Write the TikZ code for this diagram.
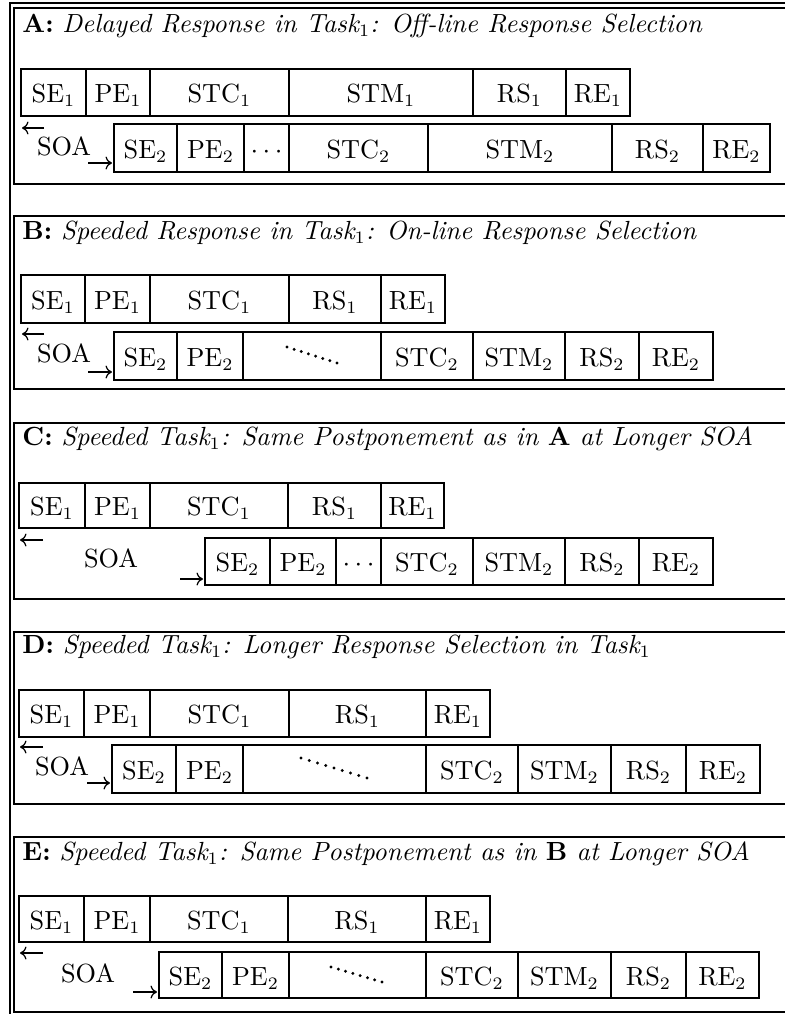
\documentclass[tikz,border=0pt]{standalone}
\usepackage{fontspec}
\usetikzlibrary{arrows.meta}
\begin{document}
\begin{tikzpicture}[x=0.4pt,y=-0.4pt,
  every node/.style={font=\fontsize{10.5pt}{12.6pt}\selectfont},
  stagebox/.style={draw, line width=0.75pt, inner sep=0pt, text height=8pt, text depth=0pt, align=center},
  frame/.style={line width=0.75pt},
  ttl/.style={anchor=base west, inner sep=0pt},
  soalbl/.style={anchor=base, inner sep=0pt},
  soaarrow/.style={-{Computer Modern Rightarrow[length=2.6pt,width=5.2pt]}, line width=0.5pt},
  dotfill/.style={fill=black}]
\newcommand\stg[6]{\node[stagebox, minimum width={(#3-#2)*0.4pt}, minimum height={(#5-#4)*0.4pt}] (#1) at ({(#2+#3)/2},{(#4+#5)/2}) {#6};}
\newcommand\slantdots[4]{\foreach \i in {0,...,7} {\fill[dotfill] ({#1+\i*(#3-#1)/7},{#2+\i*(#4-#2)/7}) circle (0.65pt);}}
\newcommand\soaarrows[9]{%
  \coordinate (#1-l0) at (#2,#4); \coordinate (#1-l1) at (#3,#4);
  \coordinate (#1-r0) at (#5,#7); \coordinate (#1-r1) at (#6,#7);
  \node[soalbl] (#1-soa) at (#8,#9) {SOA};
  \draw[soaarrow] (#1-l0) -- (#1-l1);
  \draw[soaarrow] (#1-r0) -- (#1-r1);}
\useasboundingbox (0,0) rectangle (785,1014);
\clip (0,0) rectangle (785,1014);
% outer frame
\draw[frame] (10,1030) -- (10,3) -- (800,3);
% panel frames
\draw[frame] (14,8) rectangle (800,184);
\draw[frame] (14,216) rectangle (800,389);
\draw[frame] (14,423) rectangle (800,599);
\draw[frame] (14,632) rectangle (800,804);
\draw[frame] (14,837) rectangle (800,1012);

% ---------- Panel A ----------
\node[ttl] (ta) at (22,32) {\textbf{A:} \textit{Delayed Response in Task$_1$: Off-line Response Selection}};
\stg{a-se1}{21}{86}{69}{116}{SE$_1$}
\stg{a-pe1}{86}{150}{69}{116}{PE$_1$}
\stg{a-stc1}{150}{289}{69}{116}{STC$_1$}
\stg{a-stm1}{289}{473}{69}{116}{STM$_1$}
\stg{a-rs1}{473}{566}{69}{116}{RS$_1$}
\stg{a-re1}{566}{630}{69}{116}{RE$_1$}
\stg{a-se2}{114}{177}{124}{172}{SE$_2$}
\stg{a-pe2}{177}{244}{124}{172}{PE$_2$}
\stg{a-dt2}{244}{289}{124}{172}{$\cdots$}
\stg{a-stc2}{289}{428}{124}{172}{STC$_2$}
\stg{a-stm2}{428}{612}{124}{172}{STM$_2$}
\stg{a-rs2}{612}{703}{124}{172}{RS$_2$}
\stg{a-re2}{703}{770}{124}{172}{RE$_2$}
\soaarrows{a}{44}{22}{128}{88}{112}{163}{64}{155}

% ---------- Panel B ----------
\node[ttl] (tb) at (22,239) {\textbf{B:} \textit{Speeded Response in Task$_1$: On-line Response Selection}};
\stg{b-se1}{21}{85}{275}{323}{SE$_1$}
\stg{b-pe1}{85}{150}{275}{323}{PE$_1$}
\stg{b-stc1}{150}{289}{275}{323}{STC$_1$}
\stg{b-rs1}{289}{381}{275}{323}{RS$_1$}
\stg{b-re1}{381}{445}{275}{323}{RE$_1$}
\stg{b-se2}{114}{177}{332}{380}{SE$_2$}
\stg{b-pe2}{177}{243}{332}{380}{PE$_2$}
\stg{b-dt2}{243}{381}{332}{380}{}
\stg{b-stc2}{381}{473}{332}{380}{STC$_2$}
\stg{b-stm2}{473}{565}{332}{380}{STM$_2$}
\stg{b-rs2}{565}{639}{332}{380}{RS$_2$}
\stg{b-re2}{639}{713}{332}{380}{RE$_2$}
\slantdots{287}{347}{337}{363}
\soaarrows{b}{44}{22}{334}{88}{112}{372}{64}{362}

% ---------- Panel C ----------
\node[ttl] (tc) at (22,445) {\textbf{C:} \textit{Speeded Task$_1$: Same Postponement as in \textbf{\upshape A} at Longer SOA}};
\stg{c-se1}{19}{85}{483}{528}{SE$_1$}
\stg{c-pe1}{85}{150}{483}{528}{PE$_1$}
\stg{c-stc1}{150}{288}{483}{528}{STC$_1$}
\stg{c-rs1}{288}{381}{483}{528}{RS$_1$}
\stg{c-re1}{381}{444}{483}{528}{RE$_1$}
\stg{c-se2}{205}{270}{538}{585}{SE$_2$}
\stg{c-pe2}{270}{336}{538}{585}{PE$_2$}
\stg{c-dt2}{336}{381}{538}{585}{$\cdots$}
\stg{c-stc2}{381}{473}{538}{585}{STC$_2$}
\stg{c-stm2}{473}{565}{538}{585}{STM$_2$}
\stg{c-rs2}{565}{639}{538}{585}{RS$_2$}
\stg{c-re2}{639}{713}{538}{585}{RE$_2$}
\soaarrows{c}{43}{20}{540}{180}{203}{579}{111}{567}

% ---------- Panel D ----------
\node[ttl] (td) at (22,653) {\textbf{D:} \textit{Speeded Task$_1$: Longer Response Selection in Task$_1$}};
\stg{d-se1}{19}{84}{690}{737}{SE$_1$}
\stg{d-pe1}{84}{150}{690}{737}{PE$_1$}
\stg{d-stc1}{150}{289}{690}{737}{STC$_1$}
\stg{d-rs1}{289}{426}{690}{737}{RS$_1$}
\stg{d-re1}{426}{490}{690}{737}{RE$_1$}
\stg{d-se2}{112}{176}{745}{793}{SE$_2$}
\stg{d-pe2}{176}{243}{745}{793}{PE$_2$}
\stg{d-dt2}{243}{426}{745}{793}{}
\stg{d-stc2}{426}{518}{745}{793}{STC$_2$}
\stg{d-stm2}{518}{611}{745}{793}{STM$_2$}
\stg{d-rs2}{611}{686}{745}{793}{RS$_2$}
\stg{d-re2}{686}{760}{745}{793}{RE$_2$}
\foreach \i in {0,...,8} {\fill[dotfill] ({301+\i*66/8},{758+\i*20/8}) circle (0.65pt);}
\soaarrows{d}{43}{20}{747}{87}{110}{783}{62}{775}

% ---------- Panel E ----------
\node[ttl] (te) at (22,860) {\textbf{E:} \textit{Speeded Task$_1$: Same Postponement as in \textbf{\upshape B} at Longer SOA}};
\stg{e-se1}{19}{84}{896}{942}{SE$_1$}
\stg{e-pe1}{84}{150}{896}{942}{PE$_1$}
\stg{e-stc1}{150}{288}{896}{942}{STC$_1$}
\stg{e-rs1}{288}{426}{896}{942}{RS$_1$}
\stg{e-re1}{426}{490}{896}{942}{RE$_1$}
\stg{e-se2}{159}{222}{952}{998}{SE$_2$}
\stg{e-pe2}{222}{289}{952}{998}{PE$_2$}
\stg{e-dt2}{289}{426}{952}{998}{}
\stg{e-stc2}{426}{518}{952}{998}{STC$_2$}
\stg{e-stm2}{518}{611}{952}{998}{STM$_2$}
\stg{e-rs2}{611}{686}{952}{998}{RS$_2$}
\stg{e-re2}{686}{759}{952}{998}{RE$_2$}
\slantdots{331}{967}{382}{982}
\soaarrows{e}{43}{20}{953}{133}{157}{992}{88}{982}
\end{tikzpicture}
\end{document}
